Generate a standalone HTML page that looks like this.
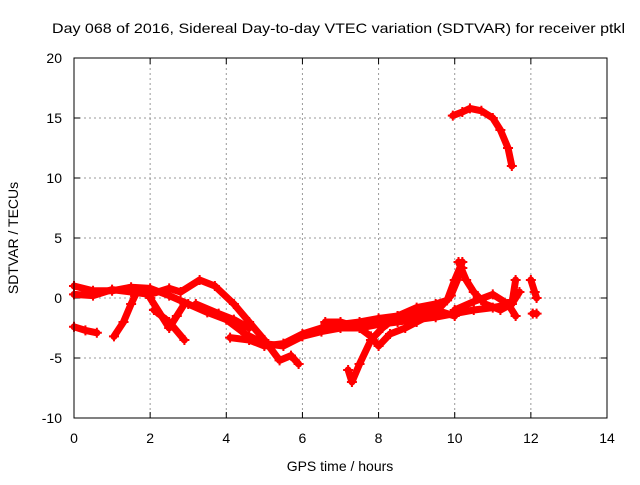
<!DOCTYPE html>
<html><head><meta charset="utf-8"><style>
body{margin:0;background:#fff}
svg text{font-family:"Liberation Sans",sans-serif;font-size:14px;fill:#000}
</style></head><body>
<svg width="640" height="480" xmlns="http://www.w3.org/2000/svg">
<rect width="640" height="480" fill="#fff"/>
<text x="52" y="33" textLength="573" lengthAdjust="spacingAndGlyphs">Day 068 of 2016, Sidereal Day-to-day VTEC variation (SDTVAR) for receiver ptkl</text>
<g id="grid"></g>
<g id="axes"></g>
<g id="series"></g>
<rect x="74" y="58" width="533" height="360" fill="none" stroke="#000"/>
<text x="340" y="471" text-anchor="middle">GPS time / hours</text>
<text x="18" y="238" text-anchor="middle" transform="rotate(-90 18 238)">SDTVAR / TECUs</text>
</svg>
<script>
const xTicks=[0,2,4,6,8,10,12,14];
const yTicks=[-10,-5,0,5,10,15,20];
const track1=[[0,1],[0.5,0.6],[1,0.6],[1.5,0.9],[2,0.8],[2.5,0.2],[3,-0.5],[3.5,-1.2],[4,-1.8],[4.5,-3],[5,-3.8],[5.5,-4],[6,-3.2],[6.5,-2.8],[7,-2.5],[7.5,-2.5],[8,-2.2],[8.5,-2],[9,-1.8],[9.5,-1.6],[10,-1.3],[10.5,-1],[11,-0.8],[11.5,-0.5],[11.7,0.5]];
const track2=[[0,0.3],[0.5,0.2],[1,0.7],[1.5,0.5],[2,0.3],[2.5,0.8],[2.8,0.5],[3.3,1.5],[3.7,1],[4.2,-0.5],[4.6,-2],[5,-3.5],[5.4,-5.2],[5.7,-4.8],[5.9,-5.5]];
const track3=[[0,-2.4],[0.3,-2.7],[0.6,-2.9]];
const track4=[[1.05,-3.2],[1.3,-2],[1.5,-0.5],[1.65,0.5]];
const track5=[[2,0],[2.3,-1.5],[2.5,-2.5],[2.7,-1.5],[2.9,-0.5]];
const track6=[[2.1,-1],[2.5,-2],[2.9,-3.5]];
const track7=[[3.2,-0.5],[3.8,-1.3],[4.2,-1.8],[4.6,-2.5]];
const track8=[[4.1,-3.3],[4.6,-3.5],[5,-4],[5.5,-3.8],[6,-3],[6.5,-2.5],[7,-2.2],[7.5,-2],[8,-1.7],[8.5,-1.5],[9,-1.3],[9.5,-1],[10,-1.5]];
const track9=[[7.2,-6],[7.3,-7],[7.5,-5.5],[7.8,-3.5],[8.1,-2.5],[8.5,-1.5],[9,-0.8],[9.5,-0.5],[9.8,-0.2],[10,1.5],[10.2,3]];
const track10=[[10.1,3],[10.3,1.5],[10.5,0.5],[10.8,-0.5],[11.2,-1],[11.5,-0.5],[11.6,1.5]];
const track11=[[6.6,-2],[7,-2],[7.5,-2.5],[7.8,-3.2],[8,-4],[8.3,-3],[8.7,-2.5],[9,-2],[9.5,-1.2],[9.9,0.2],[10.2,2.5]];
const track12=[[10,-1],[10.5,-0.3],[11,0.3],[11.4,-0.5],[11.6,-1.5]];
const track13=[[12,1.5],[12.1,0.5],[12.15,0]];
const track14=[[12.05,-1.3],[12.15,-1.3]];
const track15=[[9.95,15.2],[10.2,15.5],[10.4,15.8],[10.7,15.6],[11,15],[11.2,14],[11.4,12.5],[11.5,11]];
const tracks=[track1,track2,track3,track4,track5,track6,track7,track8,track9,track10,track11,track12,track13,track14,track15];
const X=t=>74+t*533/14, Y=v=>298-v*12;
const NS='http://www.w3.org/2000/svg';
const grid=document.getElementById('grid'),axes=document.getElementById('axes'),ser=document.getElementById('series');
function mk(tag,a,p){const e=document.createElementNS(NS,tag);for(const k in a)e.setAttribute(k,a[k]);p.appendChild(e);return e;}
xTicks.forEach(t=>{const x=X(t);
 if(t>0&&t<14){const g=mk('line',{x1:x,x2:x,y1:58,y2:418,stroke:'#999','stroke-dasharray':'2,3'},grid);
 
 }
 const l=mk('text',{x:x,y:443,'text-anchor':'middle'},axes);l.textContent=t;
 
 
 mk('line',{x1:x,x2:x,y1:418,y2:412,stroke:'#000'},axes);mk('line',{x1:x,x2:x,y1:58,y2:64,stroke:'#000'},axes);});
yTicks.forEach(v=>{const y=Y(v);
 if(v>-10&&v<20){const g=mk('line',{x1:74,x2:607,y1:y,y2:y,stroke:'#999','stroke-dasharray':'2,3'},grid);
 
 }
 const l=mk('text',{x:62,y:y+5,'text-anchor':'end'},axes);l.textContent=v;
 
 
 mk('line',{x1:74,x2:80,y1:y,y2:y,stroke:'#000'},axes);mk('line',{x1:607,x2:601,y1:y,y2:y,stroke:'#000'},axes);});
tracks.forEach(tr=>{
 const pl=mk('polyline',{points:tr.map(p=>X(p[0])+','+Y(p[1])).join(' '),fill:'none',stroke:'#f00','stroke-width':7,'stroke-linejoin':'round','stroke-linecap':'round'},ser);
 
 
 tr.forEach(p=>{const x=X(p[0]),y=Y(p[1]);
  const m=mk('path',{d:`M${x-5},${y}h10M${x},${y-5}v10`,stroke:'#f00','stroke-width':2},ser);
  
  });
});
</script>
</body></html>
